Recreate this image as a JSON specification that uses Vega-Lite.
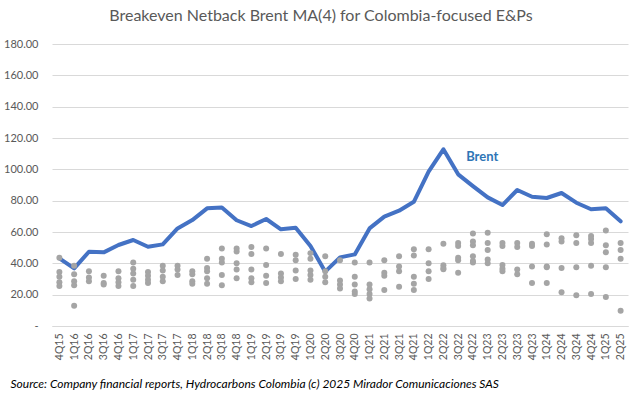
{
  "$schema": "https://vega.github.io/schema/vega-lite/v6.json",
  "width": 576,
  "height": 282,
  "autosize": {"type": "none"},
  "padding": {"left": 52, "top": 44, "right": 15, "bottom": 71},
  "background": "white",
  "title": {
    "text": "Breakeven Netback Brent MA(4) for Colombia-focused E&Ps",
    "font": "Lato",
    "fontSize": 16,
    "fontWeight": "normal",
    "color": "#595959",
    "anchor": "middle",
    "dx": -19,
    "offset": 14
  },
  "config": {
    "view": {"stroke": null},
    "axis": {"labelFont": "Lato", "labelColor": "#595959"}
  },
  "datasets": {
    "brent": [
      {"q": "4Q15", "v": 43.2}, {"q": "1Q16", "v": 36.8}, {"q": "2Q16", "v": 47.4}, {"q": "3Q16", "v": 47.0},
      {"q": "4Q16", "v": 51.7}, {"q": "1Q17", "v": 54.9}, {"q": "2Q17", "v": 50.6}, {"q": "3Q17", "v": 52.1},
      {"q": "4Q17", "v": 62.3}, {"q": "1Q18", "v": 67.6}, {"q": "2Q18", "v": 75.1}, {"q": "3Q18", "v": 75.7},
      {"q": "4Q18", "v": 67.5}, {"q": "1Q19", "v": 63.8}, {"q": "2Q19", "v": 68.3}, {"q": "3Q19", "v": 61.7},
      {"q": "4Q19", "v": 62.7}, {"q": "1Q20", "v": 51.1}, {"q": "2Q20", "v": 34.7}, {"q": "3Q20", "v": 43.8},
      {"q": "4Q20", "v": 45.7}, {"q": "1Q21", "v": 62.3}, {"q": "2Q21", "v": 69.8}, {"q": "3Q21", "v": 73.6},
      {"q": "4Q21", "v": 79.3}, {"q": "1Q22", "v": 98.5}, {"q": "2Q22", "v": 112.8}, {"q": "3Q22", "v": 96.8},
      {"q": "4Q22", "v": 89.3}, {"q": "1Q23", "v": 82.1}, {"q": "2Q23", "v": 77.2}, {"q": "3Q23", "v": 86.8},
      {"q": "4Q23", "v": 82.5}, {"q": "1Q24", "v": 81.7}, {"q": "2Q24", "v": 84.9}, {"q": "3Q24", "v": 78.7},
      {"q": "4Q24", "v": 74.5}, {"q": "1Q25", "v": 75.1}, {"q": "2Q25", "v": 66.8}
    ],
    "dots": [
      {"q": "4Q15", "v": 43.5}, {"q": "4Q15", "v": 34.5}, {"q": "4Q15", "v": 31.5}, {"q": "4Q15", "v": 28}, {"q": "4Q15", "v": 25.5},
      {"q": "1Q16", "v": 38.5}, {"q": "1Q16", "v": 33}, {"q": "1Q16", "v": 28.5}, {"q": "1Q16", "v": 26}, {"q": "1Q16", "v": 13},
      {"q": "2Q16", "v": 35}, {"q": "2Q16", "v": 31}, {"q": "2Q16", "v": 28.5},
      {"q": "3Q16", "v": 32}, {"q": "3Q16", "v": 27.5}, {"q": "3Q16", "v": 26.5},
      {"q": "4Q16", "v": 35}, {"q": "4Q16", "v": 30.5}, {"q": "4Q16", "v": 28}, {"q": "4Q16", "v": 25.5},
      {"q": "1Q17", "v": 40.5}, {"q": "1Q17", "v": 36.5}, {"q": "1Q17", "v": 33.5}, {"q": "1Q17", "v": 29.5}, {"q": "1Q17", "v": 25.5},
      {"q": "2Q17", "v": 34.5}, {"q": "2Q17", "v": 32}, {"q": "2Q17", "v": 29.5}, {"q": "2Q17", "v": 27.5},
      {"q": "3Q17", "v": 38.5}, {"q": "3Q17", "v": 35.5}, {"q": "3Q17", "v": 31.5}, {"q": "3Q17", "v": 28.5},
      {"q": "4Q17", "v": 38.5}, {"q": "4Q17", "v": 36}, {"q": "4Q17", "v": 32.5},
      {"q": "1Q18", "v": 35}, {"q": "1Q18", "v": 33}, {"q": "1Q18", "v": 28.5}, {"q": "1Q18", "v": 27},
      {"q": "2Q18", "v": 43}, {"q": "2Q18", "v": 37}, {"q": "2Q18", "v": 35}, {"q": "2Q18", "v": 30.5}, {"q": "2Q18", "v": 27},
      {"q": "3Q18", "v": 49.5}, {"q": "3Q18", "v": 43}, {"q": "3Q18", "v": 40.5}, {"q": "3Q18", "v": 32.5}, {"q": "3Q18", "v": 26},
      {"q": "4Q18", "v": 49.5}, {"q": "4Q18", "v": 47.5}, {"q": "4Q18", "v": 40}, {"q": "4Q18", "v": 36}, {"q": "4Q18", "v": 30.5},
      {"q": "1Q19", "v": 50.5}, {"q": "1Q19", "v": 46}, {"q": "1Q19", "v": 36}, {"q": "1Q19", "v": 30.5}, {"q": "1Q19", "v": 28},
      {"q": "2Q19", "v": 49.5}, {"q": "2Q19", "v": 39}, {"q": "2Q19", "v": 32}, {"q": "2Q19", "v": 27.5},
      {"q": "3Q19", "v": 46}, {"q": "3Q19", "v": 33.5}, {"q": "3Q19", "v": 31}, {"q": "3Q19", "v": 28.5},
      {"q": "4Q19", "v": 45.5}, {"q": "4Q19", "v": 42}, {"q": "4Q19", "v": 35.5}, {"q": "4Q19", "v": 30},
      {"q": "1Q20", "v": 46.5}, {"q": "1Q20", "v": 43}, {"q": "1Q20", "v": 35.5}, {"q": "1Q20", "v": 32.5}, {"q": "1Q20", "v": 29.5},
      {"q": "2Q20", "v": 44.5}, {"q": "2Q20", "v": 35}, {"q": "2Q20", "v": 31.5}, {"q": "2Q20", "v": 28},
      {"q": "3Q20", "v": 42}, {"q": "3Q20", "v": 29}, {"q": "3Q20", "v": 26.5}, {"q": "3Q20", "v": 24},
      {"q": "4Q20", "v": 40.5}, {"q": "4Q20", "v": 31.5}, {"q": "4Q20", "v": 26.5}, {"q": "4Q20", "v": 22}, {"q": "4Q20", "v": 20.5},
      {"q": "1Q21", "v": 40.5}, {"q": "1Q21", "v": 26.5}, {"q": "1Q21", "v": 23.5}, {"q": "1Q21", "v": 20.5}, {"q": "1Q21", "v": 17.5},
      {"q": "2Q21", "v": 42}, {"q": "2Q21", "v": 34}, {"q": "2Q21", "v": 32}, {"q": "2Q21", "v": 23},
      {"q": "3Q21", "v": 44.5}, {"q": "3Q21", "v": 38}, {"q": "3Q21", "v": 35}, {"q": "3Q21", "v": 25},
      {"q": "4Q21", "v": 49}, {"q": "4Q21", "v": 45}, {"q": "4Q21", "v": 31.5}, {"q": "4Q21", "v": 27}, {"q": "4Q21", "v": 23},
      {"q": "1Q22", "v": 49}, {"q": "1Q22", "v": 40}, {"q": "1Q22", "v": 35}, {"q": "1Q22", "v": 30},
      {"q": "2Q22", "v": 52.5}, {"q": "2Q22", "v": 38.8}, {"q": "2Q22", "v": 37}, {"q": "2Q22", "v": 36.2},
      {"q": "3Q22", "v": 53}, {"q": "3Q22", "v": 51}, {"q": "3Q22", "v": 43.5}, {"q": "3Q22", "v": 42}, {"q": "3Q22", "v": 34},
      {"q": "4Q22", "v": 59}, {"q": "4Q22", "v": 54}, {"q": "4Q22", "v": 51.5}, {"q": "4Q22", "v": 44.5}, {"q": "4Q22", "v": 41.5}, {"q": "4Q22", "v": 40.5},
      {"q": "1Q23", "v": 59.5}, {"q": "1Q23", "v": 53}, {"q": "1Q23", "v": 48.5}, {"q": "1Q23", "v": 42.5}, {"q": "1Q23", "v": 40},
      {"q": "2Q23", "v": 53}, {"q": "2Q23", "v": 51}, {"q": "2Q23", "v": 39}, {"q": "2Q23", "v": 36.5}, {"q": "2Q23", "v": 35},
      {"q": "3Q23", "v": 53}, {"q": "3Q23", "v": 50.5}, {"q": "3Q23", "v": 36}, {"q": "3Q23", "v": 33},
      {"q": "4Q23", "v": 52.5}, {"q": "4Q23", "v": 51}, {"q": "4Q23", "v": 38}, {"q": "4Q23", "v": 27.5},
      {"q": "1Q24", "v": 58.5}, {"q": "1Q24", "v": 52}, {"q": "1Q24", "v": 38}, {"q": "1Q24", "v": 37.5}, {"q": "1Q24", "v": 27.5},
      {"q": "2Q24", "v": 56}, {"q": "2Q24", "v": 54}, {"q": "2Q24", "v": 37}, {"q": "2Q24", "v": 21.5},
      {"q": "3Q24", "v": 58}, {"q": "3Q24", "v": 53}, {"q": "3Q24", "v": 37.5}, {"q": "3Q24", "v": 19.7},
      {"q": "4Q24", "v": 57.5}, {"q": "4Q24", "v": 55.5}, {"q": "4Q24", "v": 53}, {"q": "4Q24", "v": 38.5}, {"q": "4Q24", "v": 20.5},
      {"q": "1Q25", "v": 61}, {"q": "1Q25", "v": 51.5}, {"q": "1Q25", "v": 47}, {"q": "1Q25", "v": 37.5}, {"q": "1Q25", "v": 18.5},
      {"q": "2Q25", "v": 53}, {"q": "2Q25", "v": 48.5}, {"q": "2Q25", "v": 43}, {"q": "2Q25", "v": 9.7}
    ],
    "label": [{"q": "3Q22", "v": 107.8, "t": "Brent"}]
  },
  "encoding": {
    "x": {
      "field": "q",
      "type": "ordinal",
      "sort": null,
      "scale": {
        "type": "point",
        "padding": 0.5,
        "domain": ["4Q15","1Q16","2Q16","3Q16","4Q16","1Q17","2Q17","3Q17","4Q17","1Q18","2Q18","3Q18","4Q18","1Q19","2Q19","3Q19","4Q19","1Q20","2Q20","3Q20","4Q20","1Q21","2Q21","3Q21","4Q21","1Q22","2Q22","3Q22","4Q22","1Q23","2Q23","3Q23","4Q23","1Q24","2Q24","3Q24","4Q24","1Q25","2Q25"]
      },
      "axis": {
        "title": "Source: Company financial reports, Hydrocarbons Colombia (c) 2025 Mirador Comunicaciones SAS",
        "titleFont": "Lato",
        "titleFontStyle": "italic",
        "titleFontWeight": "normal",
        "titleFontSize": 12,
        "titleColor": "#000000",
        "titleAnchor": "start",
        "titleAlign": "left",
        "titleBaseline": "alphabetic",
        "titleX": -42,
        "titleY": 61,
        "labelAngle": -90,
        "labelAlign": "right",
        "labelBaseline": "middle",
        "labelFontSize": 10.5,
        "labelPadding": 7,
        "ticks": false,
        "domain": true,
        "domainColor": "#D9D9D9",
        "grid": false
      }
    },
    "y": {
      "field": "v",
      "type": "quantitative",
      "scale": {"domain": [0, 180], "nice": false},
      "axis": {
        "title": null,
        "values": [0, 20, 40, 60, 80, 100, 120, 140, 160, 180],
        "labelExpr": "datum.value == 0 ? '-' : format(datum.value, '.2f')",
        "labelFontSize": 11,
        "labelPadding": 14,
        "ticks": false,
        "domain": false,
        "grid": true,
        "gridColor": "#D9D9D9",
        "gridWidth": 1
      }
    }
  },
  "layer": [
    {
      "data": {"name": "brent"},
      "mark": {"type": "line", "color": "#4472C4", "strokeWidth": 4, "strokeJoin": "round", "strokeCap": "round"}
    },
    {
      "data": {"name": "dots"},
      "mark": {"type": "circle", "color": "#A5A5A5", "opacity": 1, "size": 36}
    },
    {
      "data": {"name": "label"},
      "mark": {"type": "text", "align": "left", "baseline": "middle", "dx": 8, "font": "Lato", "fontSize": 13, "fontWeight": "bold", "color": "#2E75B6"},
      "encoding": {"text": {"field": "t"}}
    }
  ]
}
